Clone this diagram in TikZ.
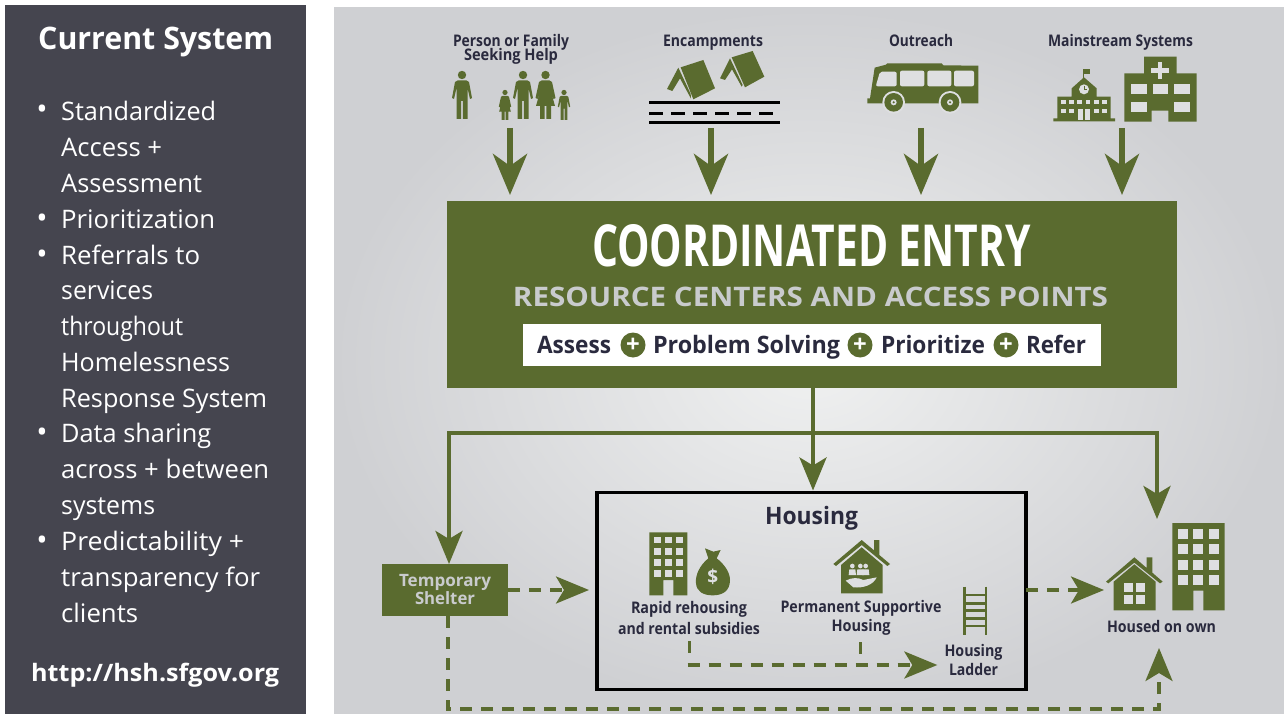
\documentclass[tikz,border=0pt]{standalone}
\usepackage{fontspec}
\usepackage{graphicx}
\setmainfont{Open Sans}
\usetikzlibrary{arrows.meta}
\definecolor{gn}{HTML}{5A6B2F}
\definecolor{panel}{HTML}{45454F}
\definecolor{ink}{HTML}{2A2A3E}
\definecolor{lightg}{HTML}{DEDFE1}
\definecolor{capg}{HTML}{C9CBCD}
\definecolor{bgin}{HTML}{F0F1F1}
\definecolor{bgout}{HTML}{CFD0D3}
\newcommand\fitw[2]{\resizebox{#1pt}{\height}{#2}}
\tikzset{
  x=1pt,y=-1pt,
  side/.style={text=white,inner sep=0pt,anchor=base west,font=\fontsize{25.5}{25.5}\selectfont},
  lab/.style={text=ink,inner sep=0pt,align=center,font=\bfseries\fontsize{16}{15}\selectfont},
  blab/.style={lab,anchor=base},
  bighead/.style={-{Stealth[length=41pt,width=34pt,inset=12pt]},line width=6pt,draw=gn},
  midhead/.style={-{Stealth[length=33pt,width=27pt,inset=8pt]},line width=4pt,draw=gn},
  dashhead/.style={-{Stealth[length=33pt,width=27pt,inset=8pt]},line width=3.5pt,draw=gn,dash pattern=on 12pt off 9pt},
  adult/.pic={
    \fill[gn] (0,4) circle (4.2);
    \fill[gn] (-4.5,9.5) -- (4.5,9.5) -- (7,11) -- (10,27) -- (8,28) -- (5.5,17) -- (5.5,48) -- (0.8,48) -- (0.8,30) -- (-0.8,30) -- (-0.8,48) -- (-5.5,48) -- (-5.5,17) -- (-8,28) -- (-10,27) -- (-7,11) -- cycle;},
  woman/.pic={
    \fill[gn] (0,4) circle (4.2);
    \fill[gn] (-4,9.5) -- (4,9.5) -- (6.5,11) -- (10,27) -- (8,28) -- (4.5,17) -- (9.5,35) -- (5.5,35) -- (5.5,48) -- (0.8,48) -- (0.8,35) -- (-0.8,35) -- (-0.8,48) -- (-5.5,48) -- (-5.5,35) -- (-9.5,35) -- (-4.5,17) -- (-8,28) -- (-10,27) -- (-6.5,11) -- cycle;},
}
\begin{document}
\begin{tikzpicture}
\useasboundingbox (0,0) rectangle (1284,714);
\fill[white] (0,0) rectangle (1284,714);
\fill[panel] (5,5) rectangle (306,714);
\shade[inner color=bgin, outer color=bgout] (334,8) rectangle (1284,714);

% left panel
\node[side,font=\bfseries\fontsize{31}{31}\selectfont] (title) at (38,50) {\fitw{235}{Current System}};
\foreach \n/\y/\w/\t in {
 a/120.5/155/Standardized, b/156.5/101/Access +, c/192.5/141/Assessment, d/228/154/Prioritization,
 e/264/139/Referrals to, f/299/92/services, g/335/122/throughout, h/371/169/Homelessness,
 i/407/206/Response System, j/442/150/Data sharing, k/478/208/across + between, l/514/94/systems,
 m/550/183/Predictability +, n/586/199/transparency for, o/622/77/clients}{
  \node[side] (line\n) at (61,\y) {\fitw{\w}{\t}};
}
\foreach \n/\y in {a/120,d/228,e/264,j/442,m/550}{
  \node[text=white,inner sep=0pt,anchor=base,font=\fontsize{30}{30}\selectfont] (dot\n) at (42,\y) {•};
}
\node[side,font=\bfseries\fontsize{24}{24}\selectfont] (url) at (31,681) {\fitw{248}{http://hsh.sfgov.org}};

% top labels
\node[lab] (person) at (511,49.5) {\fitw{116}{Person or Family}\\[-3pt]\fitw{94}{Seeking Help}};
\node[blab] (enc) at (713,46.5) {\fitw{100}{Encampments}};
\node[blab] (out) at (921,46.5) {\fitw{64}{Outreach}};
\node[blab] (main) at (1120.5,47) {\fitw{145}{Mainstream Systems}};

% family
\pic at (462,71) {adult};
\pic at (523,71) {adult};
\pic at (545.5,71) {woman};
\pic[scale=.62] at (505,90) {woman};
\pic[scale=.62] at (564,90) {adult};

% tents and road
\begin{scope}[shift={(430,20)},scale=.33333]
\fill[gn] (752,142) -- (820,120) -- (855,205) -- (790,238) -- cycle;
\fill[gn] (745,143) -- (711,207) -- (727,213) -- (750,175) -- (783,236) -- (782,222) -- cycle;
\fill[gn] (905,112) -- (968,93) -- (1003,170) -- (945,202) -- cycle;
\fill[gn] (900,115) -- (870,175) -- (885,180) -- (906,148) -- (935,200) -- (938,195) -- cycle;
\draw[line width=3pt,black] (657,248) -- (1050,248);
\draw[line width=3pt,black] (657,308) -- (1050,308);
\draw[line width=3pt,black,dash pattern=on 14.3pt off 7.7pt] (657,280) -- (1040,280);
\end{scope}

% bus, school, hospital
\begin{scope}[shift={(840,20)},scale=.33333]
\fill[gn] (82,250) -- (82,235) -- (90,235) -- (104,143) -- (138,134) -- (142,130) -- (305,130) -- (310,136) -- (415,137) -- (415,250) -- cycle;
\fill[lightg,rounded corners=2pt] (120,155) -- (170,155) -- (170,199) -- (107,199) -- cycle;
\fill[lightg,rounded corners=2pt] (180,152) rectangle (253,199);
\fill[lightg,rounded corners=2pt] (262,152) rectangle (334,199);
\fill[lightg,rounded corners=2pt] (342,152) rectangle (402,199);
\foreach \x in {161,330}{
  \fill[lightg] (\x,247) circle (34);
  \fill[gn] (\x,247) circle (28);
  \fill[lightg] (\x,247) circle (9);
  \fill[gn] (\x,247) circle (3.5);
}
% school
\fill[gn] (728,147) rectangle (733,180);
\fill[gn] (733,148) -- (750,148) -- (750,161) -- (733,161) -- cycle;
\fill[gn] (695,205) -- (732,172) -- (770,205) -- (770,230) -- (812,230) -- (812,295) -- (825,295) -- (825,304) -- (640,304) -- (640,295) -- (652,295) -- (652,230) -- (695,230) -- cycle;
\fill[lightg] (732,208) circle (15);
\draw[gn,line width=.8pt] (732,198) -- (732,208) -- (741,208);
\foreach \x in {670,694,719,744,769,794}{\fill[lightg] (\x-7,239) rectangle (\x+7,253);}
\foreach \x in {670,694,769,794}{\fill[lightg] (\x-7,266) rectangle (\x+7,280);}
\fill[lightg] (715,266) rectangle (730,299);
\fill[lightg] (734,266) rectangle (750,299);
% hospital
\fill[gn] (853,160) -- (912,160) -- (912,110) -- (1010,110) -- (1010,160) -- (1070,160) -- (1070,305) -- (985,305) -- (985,272) -- (935,272) -- (935,305) -- (853,305) -- cycle;
\fill[lightg] (953,126) rectangle (967,178);
\fill[lightg] (934,145) rectangle (987,159);
\foreach \x in {873,938,1002}{\fill[lightg] (\x,193) rectangle (\x+47,222);}
\foreach \x in {873,1002}{\fill[lightg] (\x,245) rectangle (\x+47,275);}
\end{scope}

% coordinated entry
\node[fill=gn,minimum width=730pt,minimum height=187pt,inner sep=0pt,outer sep=0pt] (ce) at (812,294.5) {};
\node[inner sep=0pt,text=white,font=\bfseries\fontsize{59}{59}\selectfont] (cetitle) at (811.5,246) {\resizebox{439pt}{42pt}{COORDINATED ENTRY}};
\node[inner sep=0pt,text=capg,font=\bfseries\fontsize{27}{27}\selectfont] (cesub) at (810.5,296.5) {\resizebox{595pt}{19.5pt}{RESOURCE CENTERS AND ACCESS POINTS}};
\node[fill=white,minimum width=578pt,minimum height=42pt,inner sep=0pt,outer sep=0pt] (steps) at (812,345) {};
\tikzset{stp/.style={text=ink,inner sep=0pt,anchor=base,font=\bfseries\fontsize{24}{24}\selectfont},
 plus/.style={circle,fill=gn,text=white,inner sep=0pt,minimum size=25pt,font=\bfseries\fontsize{24}{24}\selectfont}}
\node[stp] (s1) at (574,353.5) {\fitw{74}{Assess}};
\node[plus] (p1) at (633,345) {+};
\node[stp] (s2) at (746.5,353.5) {\fitw{187}{Problem Solving}};
\node[plus] (p2) at (860,345) {+};
\node[stp] (s3) at (933,353.5) {\fitw{104}{Prioritize}};
\node[plus] (p3) at (1006,345) {+};
\node[stp] (s4) at (1056,353.5) {\fitw{60}{Refer}};

% top arrows
\coordinate (a1) at (510,128);
\coordinate (a2) at (711,128);
\coordinate (a3) at (921,128);
\coordinate (a4) at (1122,128);
\foreach \c in {a1,a2,a3,a4}{\draw[bighead,shorten >=6pt] (\c) -- (\c |- ce.north);}

% housing box
\node[draw=black,line width=3.5pt,minimum width=429pt,minimum height=197pt,inner sep=0pt,outer sep=0pt] (housing) at (811.5,591) {};
\node[blab,font=\bfseries\fontsize{24}{24}\selectfont] (hlabel) at (811.5,524.5) {\fitw{93}{Housing}};
\node[fill=gn,minimum width=126pt,minimum height=52pt,inner sep=0pt,outer sep=0pt] (shelter) at (445,590) {};
\node[lab,text=capg,font=\bfseries\fontsize{17}{18}\selectfont] (sheltertext) at (445,589.5) {\fitw{92}{Temporary}\\\fitw{60}{Shelter}};

% flow lines
\coordinate (j) at (813,433);
\coordinate (tl) at (449,433);
\coordinate (tr) at (1157,433);
\coordinate (ownt) at (1157,519);
\draw[midhead,shorten >=2pt] (j |- ce.south) -- (j |- housing.north);
\draw[midhead] (j) -- (tl) -- (tl |- shelter.north);
\draw[midhead] (j) -- (tr) -- (ownt);

\coordinate (sh) at (589,590);
\draw[dashhead] (shelter.east |- sh) -- (sh);
\coordinate (own) at (1104,590);
\draw[dashhead] (housing.east |- own) -- (own);
\coordinate (bl) at (448,709);
\coordinate (br) at (1159,709);
\coordinate (ownb) at (1159,648);
\draw[dashhead] (bl |- shelter.south) -- (bl) -- (br) -- (ownb);

% housing contents
\begin{scope}[shift={(600,490)},scale=.33333]
\fill[gn] (148,127) -- (262,127) -- (262,316) -- (220,316) -- (220,270) -- (190,270) -- (190,316) -- (148,316) -- cycle;
\foreach \x in {162,195,228}{\foreach \y in {140,175,207,240}{\fill[lightg] (\x,\y) rectangle (\x+22,\y+20);}}
\fill[gn] (325,205) .. controls (300,225) and (285,255) .. (288,280) .. controls (290,305) and (310,316) .. (338,316) .. controls (365,316) and (390,305) .. (390,270) .. controls (390,245) and (370,220) .. (350,205) -- (362,180) -- (340,185) -- (315,175) -- cycle;
\node[inner sep=0pt,text=lightg,font=\bfseries\fontsize{19}{19}\selectfont] (dollar) at (338,262) {\$};
\fill[gn] (700,222) -- (785,150) -- (822,181) -- (822,150) -- (838,150) -- (838,195) -- (870,222) -- (862,228) -- (785,165) -- (708,228) -- cycle;
\fill[gn] (723,225) -- (785,172) -- (848,225) -- (848,310) -- (723,310) -- cycle;
\foreach \x in {757,781,797}{
  \fill[lightg] (\x,228) circle (7);
  \fill[lightg] (\x-11,255) -- (\x-9,238) -- (\x+9,238) -- (\x+11,255) -- cycle;
}
\fill[lightg] (737,272) .. controls (755,262) and (775,262) .. (790,270) -- (830,262) .. controls (820,285) and (790,295) .. (760,292) -- cycle;
\draw[gn,line width=2.7pt] (1093,290) -- (1093,435);
\draw[gn,line width=2.7pt] (1158,290) -- (1158,435);
\foreach \y in {315,340,362,385,408}{\draw[gn,line width=2.4pt] (1093,\y) -- (1158,\y);}
\coordinate (stub1a) at (269,454);
\coordinate (stub1b) at (269,488);
\coordinate (stub2a) at (782,457);
\coordinate (stub2b) at (782,491);
\coordinate (lad0) at (263,525);
\coordinate (lad1) at (1012,525);
\end{scope}
\draw[gn,line width=3.5pt] (stub1a) -- (stub1b);
\draw[gn,line width=3.5pt] (stub2a) -- (stub2b);
\draw[dashhead] (lad0) -- (lad1);

\node[lab] (rapid) at (689,617.5) {\fitw{116}{Rapid rehousing}\\[4pt]\fitw{142}{and rental subsidies}};
\node[lab] (psh) at (861,617.5) {\fitw{161}{Permanent Supportive}\\[2pt]\fitw{59}{Housing}};
\node[lab] (ladder) at (973.5,660) {\fitw{58}{Housing}\\[2pt]\fitw{49}{Ladder}};

% housed on own
\begin{scope}[shift={(1020,500)},scale=.33333]
\fill[gn] (258,245) -- (343,172) -- (380,204) -- (380,172) -- (397,172) -- (397,218) -- (428,245) -- (420,250) -- (343,188) -- (265,250) -- cycle;
\fill[gn] (281,245) -- (343,193) -- (407,245) -- (407,331) -- (281,331) -- cycle;
\foreach \x in {313,347}{\foreach \y in {250,285}{\fill[lightg] (\x,\y) rectangle (\x+27,\y+27);}}
\fill[gn] (457,69) -- (614,69) -- (614,331) -- (550,331) -- (550,272) -- (520,272) -- (520,331) -- (457,331) -- cycle;
\foreach \x in {474,520,567}{\foreach \y in {86,133,180,226}{\fill[lightg] (\x,\y) rectangle (\x+30,\y+30);}}
\end{scope}
\node[blab] (ownlabel) at (1161.5,632) {\fitw{109}{Housed on own}};
\end{tikzpicture}
\end{document}
